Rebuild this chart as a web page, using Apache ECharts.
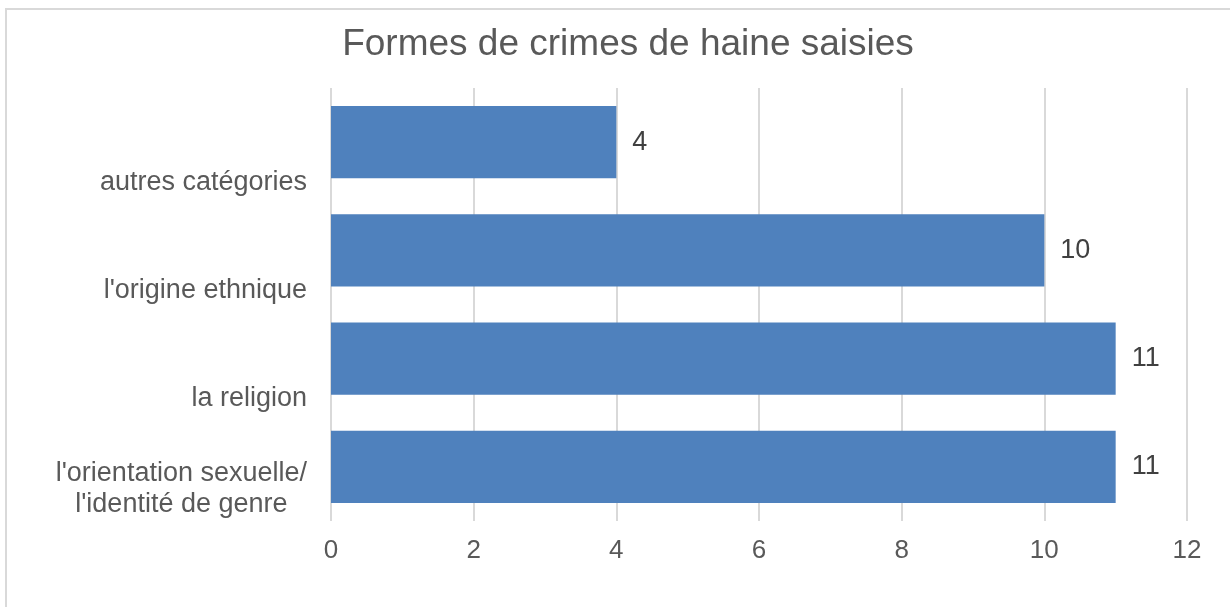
<!DOCTYPE html>
<html>
<head>
<meta charset="utf-8">
<script src="https://cdn.jsdelivr.net/npm/echarts@6/dist/echarts.min.js"></script>
<style>
html,body{margin:0;padding:0;background:#fff;}
#chart{width:1230px;height:607px;}
</style>
</head>
<body>
<div id="chart"></div>
<script>
const titleText = "Formes de crimes de haine saisies";
const categories = ["l'orientation sexuelle/\nl'identité de genre", "la religion", "l'origine ethnique", "autres catégories"];
const values = [11, 11, 10, 4];
const xTicks = [0, 2, 4, 6, 8, 10, 12];

const FONT = "'Liberation Sans', Arial, sans-serif";
const chart = echarts.init(document.getElementById('chart'), null, {renderer: 'canvas'});

chart.setOption({
  animation: false,
  backgroundColor: '#ffffff',
  graphic: [{
    type: 'rect',
    shape: {x: 6, y: 9, width: 1400, height: 800},
    style: {fill: 'none', stroke: '#d9d9d9', lineWidth: 2},
    silent: true
  }],
  title: {
    text: titleText,
    left: 623,
    textAlign: 'center',
    top: 21,
    textStyle: {fontFamily: FONT, fontSize: 37, fontWeight: 'normal', color: '#595959'}
  },
  grid: {left: 331, right: 43, top: 88, bottom: 86, containLabel: false},
  xAxis: {
    type: 'value',
    min: xTicks[0],
    max: xTicks[xTicks.length - 1],
    interval: 2,
    axisLine: {show: false},
    axisTick: {show: false},
    splitLine: {show: true, lineStyle: {color: '#d9d9d9', width: 2}},
    axisLabel: {fontFamily: FONT, fontSize: 26, color: '#595959', margin: 17}
  },
  yAxis: {
    type: 'category',
    data: categories,
    axisLine: {show: false},
    axisTick: {show: false},
    axisLabel: {
      margin: 24,
      formatter: function (v) {
        const lines = v.split('\n');
        const sp = lines.length === 1 ? '{s1| }' : '{s2| }';
        return sp + '\n' + lines.map(l => '{t|' + l + '}').join('\n');
      },
      rich: {
        t: {fontFamily: FONT, fontSize: 27, lineHeight: 31, color: '#595959', align: 'center'},
        s1: {fontSize: 1, lineHeight: 80},
        s2: {fontSize: 1, lineHeight: 44}
      }
    }
  },
  series: [{
    type: 'bar',
    data: values,
    barCategoryGap: '33.3%',
    itemStyle: {color: '#4f81bd'},
    label: {
      show: true,
      position: 'right',
      distance: 16,
      fontFamily: FONT,
      fontSize: 27,
      color: '#404040'
    }
  }]
});
</script>
</body>
</html>
